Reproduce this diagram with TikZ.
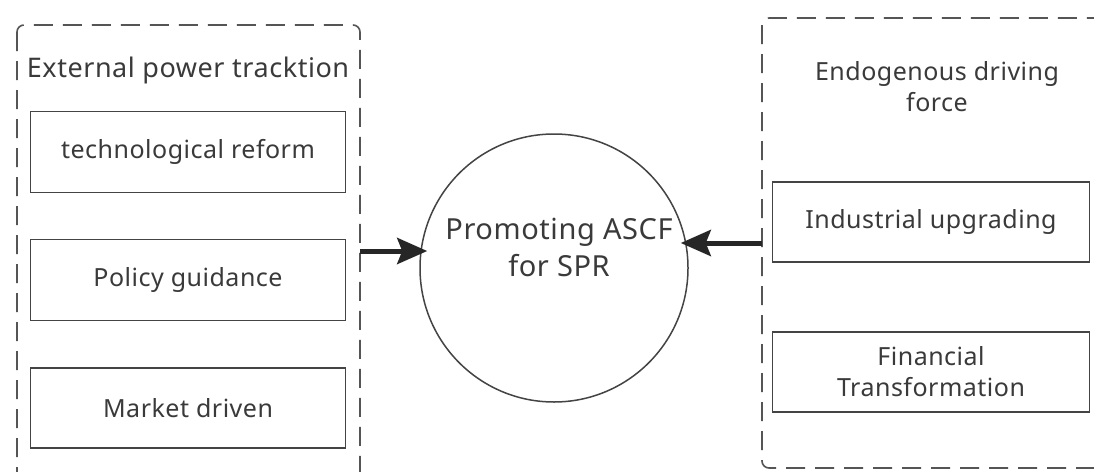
\documentclass[tikz,border=0pt]{standalone}
\usepackage{fontspec}
\setmainfont{Noto Sans}[LetterSpace=2]
\usetikzlibrary{arrows.meta}
\definecolor{txt}{HTML}{3A3A3A}
\definecolor{ln}{HTML}{444444}
\definecolor{dsh}{HTML}{555555}
\tikzset{
  container/.style={draw=dsh, line width=1.6pt, dash pattern=on 19pt off 10pt, rounded corners=7pt},
  itembox/.style={draw=ln, line width=1.7pt, rectangle, inner sep=0pt, text=txt, font=\fontsize{25}{30}\selectfont, align=center},
  titletext/.style={text=txt, font=\fontsize{25}{31}\selectfont, align=center, inner sep=0pt},
  bigarrow/.style={draw=black!85, line width=5pt, -{Stealth[length=30pt,width=26pt,inset=5pt]}}
}
\begin{document}
\begin{tikzpicture}[x=1pt,y=-1pt]
\useasboundingbox (0,0) rectangle (1094,471);
\clip (0,0) rectangle (1094,471);
\fill[white] (0,0) rectangle (1094,471);
% containers
\draw[container] (17,25) rectangle (360,520);
\draw[container] (762,18) rectangle (1130,468);
% titles
\node[titletext, font=\fontsize{27}{31}\selectfont] (ltitle) at (188,70) {External power tracktion};
\node[titletext] (rtitle) at (937,87) {Endogenous driving\\force};
% left boxes
\node[itembox, minimum width=315pt, minimum height=81pt] (b1) at (188,152) {technological reform};
\node[itembox, minimum width=315pt, minimum height=81pt] (b2) at (188,280) {Policy guidance};
\node[itembox, minimum width=315pt, minimum height=80pt] (b3) at (188,408) {Market driven};
% right boxes
\node[itembox, minimum width=317pt, minimum height=80pt] (r1) at (931,222) {Industrial upgrading};
\node[itembox, minimum width=317pt, minimum height=80pt, font=\fontsize{25}{31}\selectfont] (r2) at (931,372) {Financial\\Transformation};
% circle
\node[draw=ln, line width=1.5pt, circle, minimum size=268pt, inner sep=0pt] (c) at (554,268) {};
\node[titletext, font=\fontsize{29}{37}\selectfont] (ct) at (559,247) {Promoting ASCF\\for SPR};
% arrows
\coordinate (la) at (360,251);
\coordinate (ra) at (762,243);
\draw[bigarrow] (la) -- ([xshift=8pt]la -| c.west);
\draw[bigarrow] (ra) -- ([xshift=-8pt]ra -| c.east);
\end{tikzpicture}
\end{document}
